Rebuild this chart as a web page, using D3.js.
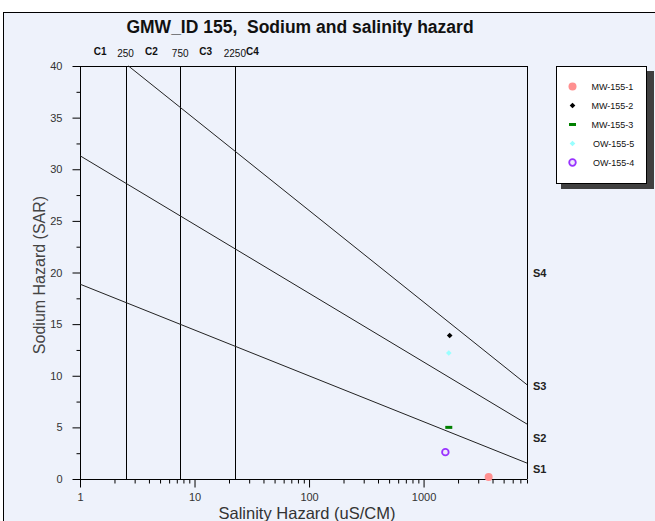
<!DOCTYPE html>
<html><head><meta charset="utf-8">
<script src="https://cdn.jsdelivr.net/npm/d3@7"></script>
<style>html,body{margin:0;padding:0;background:#fff;}svg{display:block;font-family:"Liberation Sans",Arial,sans-serif;}</style>
</head><body><svg id="c" width="655" height="521"></svg>
<script>
// ---- data ----
const seriesNames = ["MW-155-1","MW-155-2","MW-155-3","OW-155-5","OW-155-4"];
const salinityValues = [3700,1690,1660,1660,1550];
const sodiumValues = [0.2,13.9,5.0,12.2,2.6];
const xTickValues = [1,10,100,1000];
const yTickValues = [0,5,10,15,20,25,30,35,40];
const boundaryS1S2 = [[1,18.87],[8000,1.54]];
const boundaryS2S3 = [[1,31.31],[8000,5.32]];
const boundaryS3S4 = [[2.65,40],[8000,9.13]];
const salinityBounds = [2.5,7.5,22.5];
const salinityBoundLabels = ["250","750","2250"];
const cClassNames = ["C1","C2","C3","C4"];
const cClassX = [1.5,4.2,12.5,32];
const sClassNames = ["S1","S2","S3","S4"];
const sClassY = [1,4,9,20];

// ---- styles ----
const markerColors = ["#ff9090","#000000","#008000","#99ffff","#9933ff"];
const markerTypes = ["circle","diamond","dash","star","ring"];
const bg = "#eef2fb";

const svg = d3.select("#c");
svg.append("rect").attr("x",3.5).attr("y",12.5).attr("width",700).attr("height",600)
  .attr("fill",bg).attr("stroke","#000");

const L=80,R=527,T=66,B=479;
const x = d3.scaleLog().domain([1,8000]).range([L,R]);
const y = d3.scaleLinear().domain([0,40]).range([B,T]);

// plot box top/right
svg.append("line").attr("x1",L).attr("x2",R).attr("y1",T+0.5).attr("y2",T+0.5).attr("stroke","#000");
svg.append("line").attr("x1",R+0.5).attr("x2",R+0.5).attr("y1",T).attr("y2",B).attr("stroke","#000");

// x axis
const xMinor = [];
for (let d=1; d<=1000; d*=10) for (let k=2;k<=9;k++) if (d*k<=8000) xMinor.push(d*k);
const gx = svg.append("g").attr("transform",`translate(0,${B+0.5})`);
gx.call(d3.axisBottom(x).tickValues(xMinor).tickSize(4).tickFormat(""));
gx.call(g=>g.select(".domain").remove());
const gx2 = svg.append("g").attr("transform",`translate(0,${B+0.5})`);
gx2.call(d3.axisBottom(x).tickValues(xTickValues).tickSize(8).tickPadding(6).tickFormat(d3.format("d")));
gx2.select(".domain").attr("d",`M${L},0H${R}`);
gx2.selectAll("text").attr("font-size",11).attr("fill","#333").attr("font-family","Liberation Sans, Arial");
svg.selectAll(".tick line").attr("stroke","#000");

// y axis
const yMinor = d3.range(2.5,40,5);
const gy = svg.append("g").attr("transform",`translate(${L+0.5},0)`);
gy.call(d3.axisLeft(y).tickValues(yMinor).tickSize(4).tickFormat(""));
gy.call(g=>g.select(".domain").remove());
const gy2 = svg.append("g").attr("transform",`translate(${L+0.5},0)`);
gy2.call(d3.axisLeft(y).tickValues(yTickValues).tickSize(8).tickPadding(10).tickFormat(d3.format("d")));
gy2.select(".domain").attr("d",`M0,${B}V${T}`);
gy2.selectAll("text").attr("font-size",11).attr("fill","#333").attr("font-family","Liberation Sans, Arial");

// vertical salinity boundaries
svg.selectAll(".vb").data(salinityBounds).join("line")
  .attr("x1",d=>Math.round(x(d))+0.5).attr("x2",d=>Math.round(x(d))+0.5)
  .attr("y1",T).attr("y2",B).attr("stroke","#000");

// slanted boundaries
const lineGen = d3.line().x(d=>x(d[0])).y(d=>y(d[1]));
[boundaryS1S2,boundaryS2S3,boundaryS3S4].forEach(b=>{
  svg.append("path").attr("d",lineGen(b)).attr("fill","none").attr("stroke","#222").attr("stroke-width",1);
});

// labels top
svg.selectAll(".bl").data(salinityBounds).join("text")
  .attr("x",d=>x(d)).attr("y",57).attr("text-anchor","middle")
  .attr("font-size",10).attr("fill","#111").text((d,i)=>salinityBoundLabels[i]);
svg.selectAll(".cl").data(cClassX).join("text")
  .attr("x",d=>x(d)).attr("y",55).attr("text-anchor","middle")
  .attr("font-size",10).attr("font-weight","bold").attr("fill","#111").text((d,i)=>cClassNames[i]);
// S labels
svg.selectAll(".sl").data(sClassY).join("text")
  .attr("x",R+6).attr("y",d=>y(d)+4).attr("font-size",11).attr("font-weight","bold")
  .attr("fill","#222").text((d,i)=>sClassNames[i]);

// title
svg.append("text").attr("x",300).attr("y",33).attr("text-anchor","middle")
  .attr("font-size",17.5).attr("font-weight","bold").attr("fill","#111")
  .attr("xml:space","preserve").style("white-space","pre")
  .text("GMW_ID 155,  Sodium and salinity hazard");
// axis titles
svg.append("text").attr("x",307).attr("y",519).attr("text-anchor","middle")
  .attr("font-size",16.5).attr("fill","#333").text("Salinity Hazard (uS/CM)");
svg.append("text").attr("transform","translate(45,275) rotate(-90)").attr("text-anchor","middle")
  .attr("font-size",16).attr("fill","#444").text("Sodium Hazard (SAR)");

// markers
function drawMarker(g, type, color, cx, cy){
  if (type==="circle") g.append("circle").attr("cx",cx).attr("cy",cy).attr("r",4).attr("fill",color);
  else if (type==="diamond") g.append("path").attr("transform",`translate(${cx},${cy}) rotate(45)`)
      .attr("d",d3.symbol(d3.symbolSquare,16)()).attr("fill",color);
  else if (type==="dash") g.append("rect").attr("x",cx-3.5).attr("y",cy-1.5).attr("width",7).attr("height",3).attr("fill",color);
  else if (type==="star") g.append("path").attr("transform",`translate(${cx},${cy}) scale(1.4,0.8)`)
      .attr("d",d3.symbol(d3.symbolDiamond,14)()).attr("fill",color);
  else if (type==="ring") g.append("circle").attr("cx",cx).attr("cy",cy).attr("r",3.3).attr("fill","#f0e8fc")
      .attr("stroke",color).attr("stroke-width",1.8);
}
const gm = svg.append("g");
seriesNames.forEach((n,i)=>drawMarker(gm, markerTypes[i], markerColors[i], x(salinityValues[i]), y(sodiumValues[i])));

// legend
const lg = svg.append("g");
lg.append("rect").attr("x",561).attr("y",71).attr("width",93).attr("height",118).attr("fill","#404040");
lg.append("rect").attr("x",556.5).attr("y",66.5).attr("width",90).attr("height",117).attr("fill","#fff").attr("stroke","#000");
seriesNames.forEach((n,i)=>{
  const yy = 86.5 + i*19;
  drawMarker(lg, markerTypes[i], markerColors[i], 572.5, yy);
  lg.append("text").attr("x", n.startsWith("OW")?593:591.5).attr("y",yy+3).attr("font-size",9).attr("fill","#111").text(n);
});
</script></body></html>
